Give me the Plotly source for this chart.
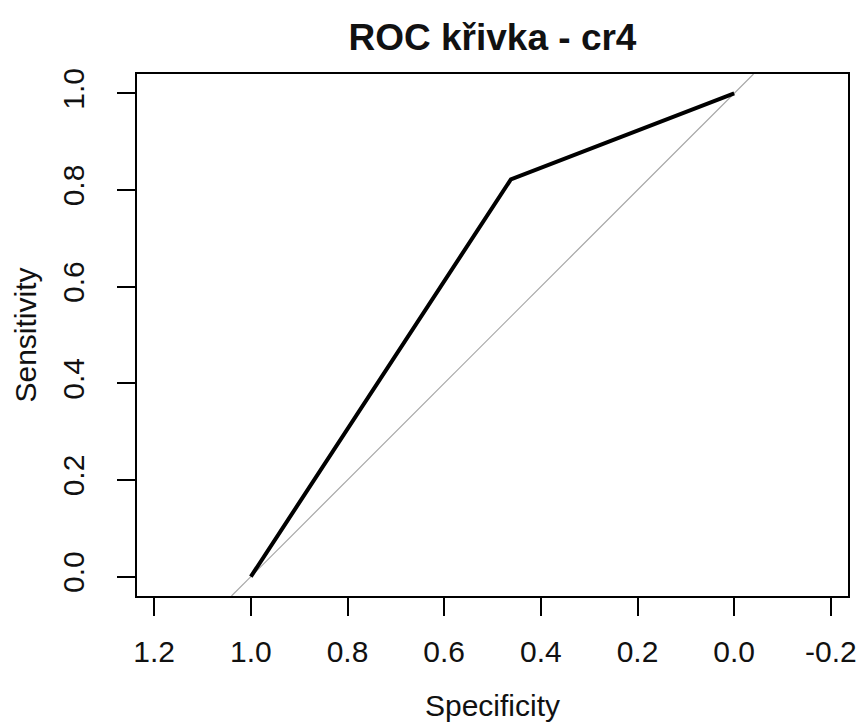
import plotly.graph_objects as go

# ROC curve points (specificity on a reversed x axis, sensitivity on y)
specificity = [1.0, 0.462, 0.0]
sensitivity = [0.0, 0.822, 1.0]

x_ticks = [1.2, 1.0, 0.8, 0.6, 0.4, 0.2, 0.0, -0.2]
x_tick_text = ["1.2", "1.0", "0.8", "0.6", "0.4", "0.2", "0.0", "-0.2"]
y_ticks = [0.0, 0.2, 0.4, 0.6, 0.8, 1.0]
y_tick_text = ["0.0", "0.2", "0.4", "0.6", "0.8", "1.0"]

title_text = "ROC křivka - cr4"
x_label = "Specificity"
y_label = "Sensitivity"

y_range = [-0.04, 1.04]
x_range = [1.2355, -0.2355]

FONT = "Liberation Sans, Arial, sans-serif"

fig = go.Figure()

# chance diagonal (sensitivity = 1 - specificity), clipped to the plot area
fig.add_shape(
    type="line", xref="x", yref="y",
    x0=1 - y_range[0], y0=y_range[0], x1=1 - y_range[1], y1=y_range[1],
    line=dict(color="#a6a6a6", width=1.2), layer="below",
)

fig.add_trace(go.Scatter(
    x=specificity, y=sensitivity, mode="lines",
    line=dict(color="black", width=4), showlegend=False, hoverinfo="skip",
))

axis_common = dict(
    showgrid=False, zeroline=False, automargin=False,
    showline=True, mirror=True, linecolor="black", linewidth=2,
    ticks="outside", ticklen=18, tickwidth=2, tickcolor="black",
    tickfont=dict(family=FONT, size=30, color="#111111"),
    tickmode="array",
)

fig.update_layout(
    width=858, height=725,
    margin=dict(l=137, r=10, t=74, b=129),
    paper_bgcolor="white", plot_bgcolor="white",
    title=dict(
        text=title_text, x=0.574, xanchor="center",
        y=1 - 37 / 725, yanchor="middle", yref="container",
        font=dict(family=FONT, size=37, color="#111111", weight="bold"),
    ),
    xaxis=dict(
        range=x_range, tickvals=x_ticks, ticktext=x_tick_text,
        ticklabelstandoff=10,
        title=dict(text=x_label, standoff=28,
                   font=dict(family=FONT, size=30, color="#111111")),
        **axis_common,
    ),
    yaxis=dict(
        range=y_range, tickvals=y_ticks, ticktext=y_tick_text, tickangle=-90,
        ticklabelstandoff=21,
        title=dict(text=y_label, standoff=12,
                   font=dict(family=FONT, size=30, color="#111111")),
        **axis_common,
    ),
)

fig.write_html("out.html")
